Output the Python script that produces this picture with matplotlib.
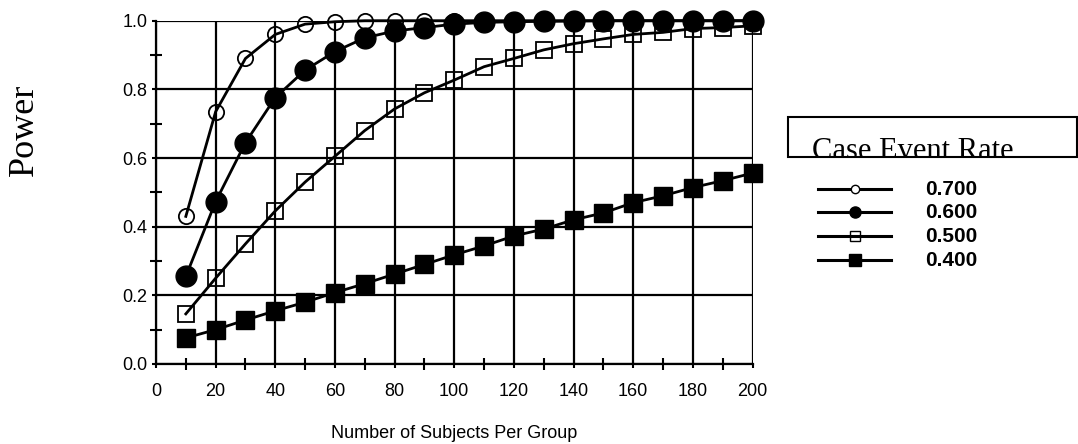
import matplotlib
matplotlib.use("Agg")
import matplotlib.pyplot as plt
from matplotlib.lines import Line2D
from matplotlib.patches import Rectangle
from matplotlib.ticker import MultipleLocator

# Sample sizes per group
subjects = [10, 20, 30, 40, 50, 60, 70, 80, 90, 100,
            110, 120, 130, 140, 150, 160, 170, 180, 190, 200]

# Power curves for each case event rate
power_070 = [0.43, 0.735, 0.89, 0.96, 0.99, 0.997, 1.0, 1.0, 1.0, 1.0,
             1.0, 1.0, 1.0, 1.0, 1.0, 1.0, 1.0, 1.0, 1.0, 1.0]
power_060 = [0.255, 0.473, 0.645, 0.776, 0.856, 0.91, 0.95, 0.97, 0.98, 0.99,
             0.995, 0.997, 0.998, 0.999, 1.0, 1.0, 1.0, 1.0, 1.0, 1.0]
power_050 = [0.146, 0.25, 0.35, 0.446, 0.53, 0.605, 0.68, 0.743, 0.79, 0.827,
             0.866, 0.89, 0.915, 0.933, 0.947, 0.96, 0.966, 0.977, 0.98, 0.985]
power_040 = [0.076, 0.10, 0.128, 0.155, 0.18, 0.208, 0.234, 0.262, 0.29, 0.318,
             0.344, 0.373, 0.393, 0.42, 0.44, 0.47, 0.49, 0.514, 0.534, 0.556]

rate_labels = ["0.700", "0.600", "0.500", "0.400"]
legend_title = "Case Event Rate"
x_ticks = [0, 20, 40, 60, 80, 100, 120, 140, 160, 180, 200]
y_ticks = [0.0, 0.2, 0.4, 0.6, 0.8, 1.0]

W, H = 1078, 444
fig = plt.figure(figsize=(W / 100, H / 100), dpi=100)
ax = fig.add_axes([156 / W, 1 - 364 / H, (752.5 - 156) / W, (364 - 20.7) / H])

sans = "Liberation Sans"
serif = "Liberation Serif"

styles = [
    dict(marker="o", markersize=11, markerfacecolor="none", markeredgewidth=1.3),
    dict(marker="o", markersize=15, markerfacecolor="black", markeredgewidth=1.0),
    dict(marker="s", markersize=11.5, markerfacecolor="none", markeredgewidth=1.3),
    dict(marker="s", markersize=12.5, markerfacecolor="black", markeredgewidth=1.0),
]
series = [power_070, power_060, power_050, power_040]
draw_order = [0, 2, 3, 1]
for z, i in enumerate(draw_order):
    ax.plot(subjects, series[i], color="black", lw=2.0, markeredgecolor="black",
            clip_on=False, zorder=3 + z, **styles[i])

ax.set_xlim(0, 200)
ax.set_ylim(0, 1)
ax.set_xticks(x_ticks)
ax.set_yticks(y_ticks)
ax.set_xticklabels([str(t) for t in x_ticks], fontfamily=sans, fontsize=13)
ax.set_yticklabels([f"{t:.1f}" for t in y_ticks], fontfamily=sans, fontsize=13)
ax.xaxis.set_minor_locator(MultipleLocator(10))
ax.yaxis.set_minor_locator(MultipleLocator(0.1))
ax.tick_params(which="major", direction="out", length=3, width=1.5, pad=11)
ax.tick_params(axis="y", which="major", pad=3)
ax.tick_params(which="minor", direction="inout", length=8, width=1.5)
ax.grid(True, which="major", color="black", lw=1.6)
ax.set_axisbelow(True)
for side in ["top", "right"]:
    ax.spines[side].set_visible(False)
for side in ["left", "bottom"]:
    ax.spines[side].set_linewidth(1.6)

ax.set_xlabel("Number of Subjects Per Group", fontfamily=sans, fontsize=13, labelpad=18)
fig.text(24 / W, 1 - 130 / H, "Power", rotation=90, fontfamily=serif, fontsize=26,
         ha="center", va="center")

# Legend box with title
box = Rectangle((788 / W, 1 - 157 / H), (1077 - 788) / W, (157 - 117) / H,
                transform=fig.transFigure, fill=False, edgecolor="black", lw=1.5)
fig.add_artist(box)
title = fig.text(812 / W, 1 - 159 / H, legend_title, fontfamily=serif, fontsize=22,
                 ha="left", va="baseline")
title.set_clip_path(box)

# Legend entries
legend_styles = [
    dict(marker="o", markersize=6, markerfacecolor="white", markeredgewidth=1.0),
    dict(marker="o", markersize=8, markerfacecolor="black", markeredgewidth=1.0),
    dict(marker="s", markersize=7, markerfacecolor="none", markeredgewidth=1.0),
    dict(marker="s", markersize=8, markerfacecolor="black", markeredgewidth=1.0),
]
rows_y = [189, 212, 236, 260]
for lab, st, yy in zip(rate_labels, legend_styles, rows_y):
    yf = 1 - yy / H
    fig.add_artist(Line2D([818 / W, 891 / W], [yf, yf], transform=fig.transFigure,
                          color="black", lw=2.2))
    fig.add_artist(Line2D([855 / W], [yf], transform=fig.transFigure, color="black",
                          markeredgecolor="black", linestyle="none", **st))
    fig.text(925 / W, yf, lab, fontfamily=sans, fontweight="bold", fontsize=15,
             ha="left", va="center")

fig.savefig("out.png", dpi=100)
